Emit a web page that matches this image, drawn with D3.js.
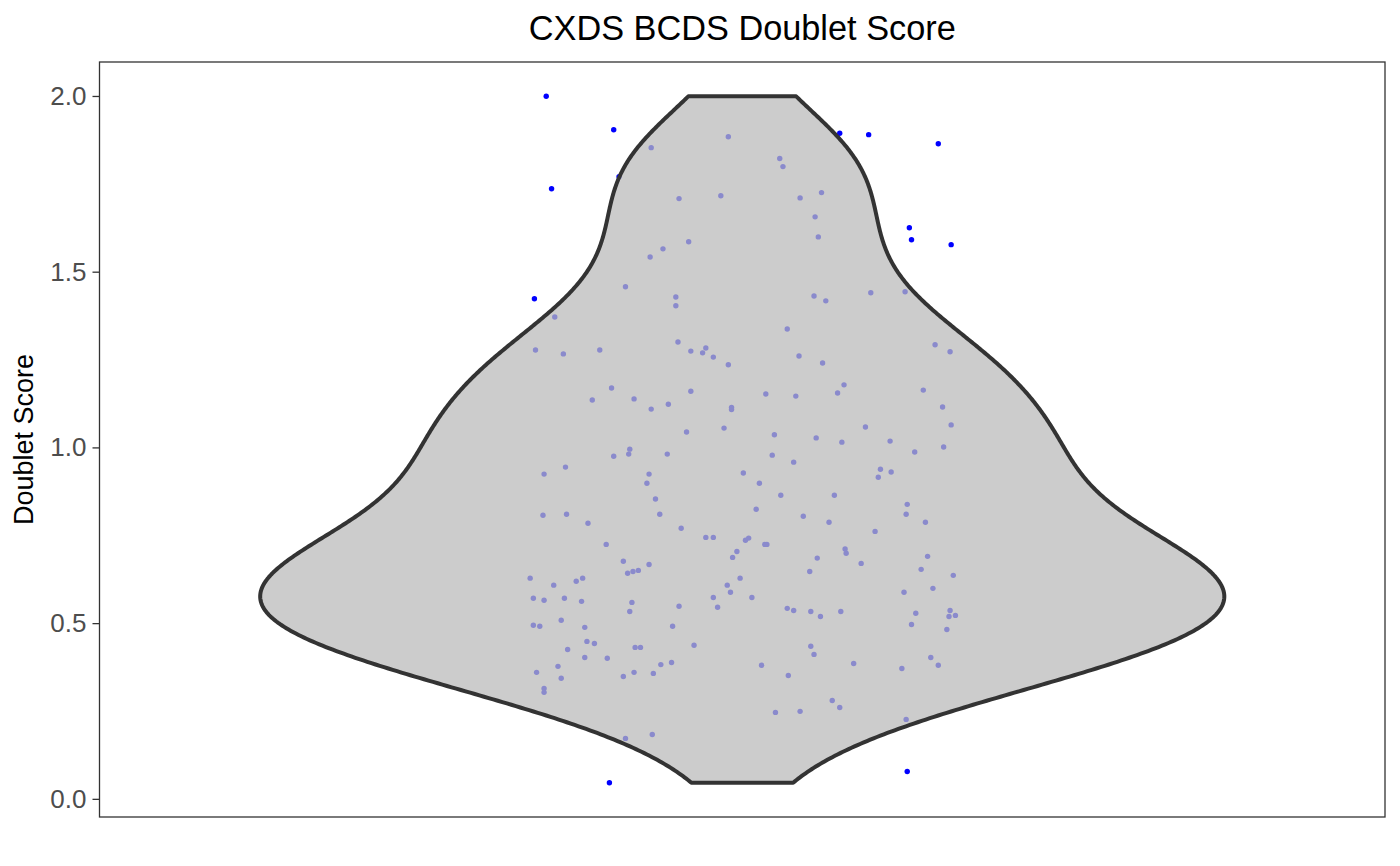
<!DOCTYPE html>
<html>
<head>
<meta charset="utf-8">
<script src="https://cdn.jsdelivr.net/npm/d3@7"></script>
<style>
  body { margin: 0; background: #fff; }
  text { font-family: "Liberation Sans", Arial, sans-serif; }
</style>
</head>
<body>
<div id="chart"></div>
<script>
// chart text
const title = "CXDS BCDS Doublet Score";
const yLabel = "Doublet Score";
const yTicks = [0, 0.5, 1, 1.5, 2];

// one value per cell
const doubletScore = [
  1.999, 1.904, 1.736, 1.853, 1.884, 1.770, 1.708, 1.716, 1.822, 1.799,
  1.894, 1.890, 1.864, 1.710, 1.725, 1.656, 1.599, 1.625, 1.591, 1.577,
  1.585, 1.565, 1.542, 1.457, 1.423, 1.428, 1.403, 1.371, 1.431, 1.417,
  1.440, 1.443, 1.337, 1.277, 1.266, 1.277, 1.300, 1.274, 1.283, 1.269,
  1.257, 1.235, 1.260, 1.240, 1.292, 1.272, 1.169, 1.135, 1.138, 1.109,
  1.123, 1.160, 1.114, 1.108, 1.152, 1.146, 1.155, 1.178, 1.163, 1.115,
  1.064, 1.058, 1.044, 1.055, 1.036, 1.027, 1.015, 1.018, 1.001, 0.987,
  0.995, 0.981, 0.975, 0.981, 0.978, 0.958, 0.944, 0.924, 0.924, 0.898,
  0.927, 0.898, 0.938, 0.930, 0.915, 0.864, 0.864, 0.853, 0.838, 0.810,
  0.824, 0.807, 0.810, 0.810, 0.784, 0.804, 0.787, 0.787, 0.770, 0.761,
  0.744, 0.744, 0.736, 0.742, 0.724, 0.724, 0.724, 0.704, 0.687, 0.711,
  0.699, 0.685, 0.690, 0.676, 0.667, 0.642, 0.647, 0.650, 0.670, 0.647,
  0.653, 0.628, 0.608, 0.619, 0.628, 0.628, 0.636, 0.608, 0.588, 0.599,
  0.588, 0.571, 0.565, 0.571, 0.562, 0.559, 0.573, 0.573, 0.548, 0.545,
  0.542, 0.536, 0.533, 0.533, 0.533, 0.519, 0.528, 0.536, 0.519, 0.522,
  0.496, 0.482, 0.494, 0.491, 0.508, 0.488, 0.491, 0.448, 0.442, 0.425,
  0.402, 0.400, 0.431, 0.431, 0.437, 0.434, 0.411, 0.402, 0.380, 0.377,
  0.360, 0.343, 0.348, 0.360, 0.357, 0.382, 0.388, 0.380, 0.351, 0.385,
  0.371, 0.314, 0.303, 0.280, 0.260, 0.246, 0.249, 0.226, 0.172, 0.183,
  0.046, 0.078
];

// horizontal jitter of each point, in category units (same order)
const jitterX = [
  -0.183, -0.120, -0.178, -0.085, -0.013, -0.115, -0.059, -0.020, 0.035, 0.038,
  0.091, 0.118, 0.183, 0.054, 0.074, 0.068, 0.071, 0.156, 0.158, 0.195,
  -0.050, -0.074, -0.086, -0.109, -0.194, -0.062, -0.062, -0.175, 0.067, 0.078,
  0.120, 0.152, 0.042, -0.193, -0.167, -0.133, -0.060, -0.048, -0.034, -0.037,
  -0.027, -0.013, 0.053, 0.075, 0.180, 0.194, -0.122, -0.140, -0.101, -0.085,
  -0.069, -0.048, -0.010, -0.010, 0.022, 0.050, 0.089, 0.095, 0.169, 0.187,
  0.195, 0.115, -0.052, -0.017, 0.030, 0.069, 0.093, 0.138, 0.188, 0.161,
  -0.105, -0.106, -0.120, -0.070, 0.028, 0.048, -0.165, -0.185, -0.087, -0.089,
  0.001, 0.016, 0.129, 0.139, 0.127, 0.036, 0.086, -0.081, 0.154, 0.153,
  0.013, -0.186, -0.164, -0.077, -0.144, 0.057, 0.081, 0.171, -0.057, 0.124,
  -0.034, -0.027, 0.003, 0.006, -0.127, 0.021, 0.023, -0.005, -0.009, 0.096,
  0.097, 0.070, 0.173, -0.111, -0.087, -0.107, -0.102, -0.097, 0.111, 0.063,
  0.167, -0.198, -0.176, -0.155, -0.149, -0.002, 0.197, -0.014, -0.011, 0.178,
  0.151, -0.195, -0.185, -0.166, -0.150, -0.103, -0.027, 0.009, -0.059, -0.023,
  0.042, 0.048, -0.105, 0.064, 0.092, 0.073, 0.162, 0.194, 0.193, 0.199,
  0.158, 0.191, -0.195, -0.189, -0.169, -0.147, -0.065, -0.145, -0.138, -0.163,
  -0.147, -0.126, -0.100, -0.095, -0.045, 0.064, 0.067, 0.176, 0.183, -0.172,
  -0.192, -0.169, -0.111, -0.101, -0.083, -0.076, -0.066, 0.018, 0.043, 0.104,
  0.149, -0.185, -0.185, 0.084, 0.091, 0.031, 0.054, 0.153, -0.109, -0.084,
  -0.124, 0.154
];

const width = 1400, height = 866;
const margin = { top: 62, right: 15, bottom: 49, left: 99.5 };

const svg = d3
  .select("#chart")
  .append("svg")
  .attr("width", width)
  .attr("height", height);

// ggplot style scales: one discrete slot at 1, 5% expansion on y
const x = d3
  .scaleLinear()
  .domain([0.4, 1.6])
  .range([margin.left, width - margin.right]);

const [yMin, yMax] = d3.extent(doubletScore);
const pad = (yMax - yMin) * 0.05;
const y = d3
  .scaleLinear()
  .domain([yMin - pad, yMax + pad])
  .range([height - margin.bottom, margin.top]);

// gaussian kernel density, bandwidth as R's bw.nrd0
const sorted = doubletScore.slice().sort(d3.ascending);
const n = sorted.length;
const iqr = d3.quantile(sorted, 0.75) - d3.quantile(sorted, 0.25);
const bw = 0.9 * Math.min(d3.deviation(sorted), iqr / 1.34) * Math.pow(n, -0.2);

const grid = d3.range(512).map((i) => yMin + (i * (yMax - yMin)) / 511);
const dens = grid.map((g) => {
  const s = d3.sum(sorted, (v) => Math.exp(-0.5 * ((g - v) / bw) ** 2));
  return s / (n * bw * Math.sqrt(2 * Math.PI));
});
const maxDens = d3.max(dens);
const violinData = grid.map((g, i) => ({ v: g, w: dens[i] / maxDens }));

// jittered points under the violin
svg
  .append("g")
  .selectAll("circle")
  .data(doubletScore)
  .join("circle")
  .attr("cx", (d, i) => x(1 + jitterX[i]))
  .attr("cy", (d) => y(d))
  .attr("r", 2.7)
  .attr("fill", "#0000ff");

// violin
const area = d3
  .area()
  .x0((d) => x(1 - 0.45 * d.w))
  .x1((d) => x(1 + 0.45 * d.w))
  .y((d) => y(d.v));

svg
  .append("path")
  .datum(violinData)
  .attr("d", area)
  .attr("fill", "#bababa")
  .attr("fill-opacity", 0.74)
  .attr("stroke", "#333333")
  .attr("stroke-width", 4)
  .attr("stroke-linejoin", "round");

// panel border
svg
  .append("rect")
  .attr("x", margin.left)
  .attr("y", margin.top)
  .attr("width", width - margin.left - margin.right)
  .attr("height", height - margin.top - margin.bottom)
  .attr("fill", "none")
  .attr("stroke", "#333333")
  .attr("stroke-width", 1.3);

// y axis
const yAxis = svg
  .append("g")
  .attr("transform", `translate(${margin.left},0)`)
  .call(
    d3.axisLeft(y)
      .tickValues(yTicks)
      .tickFormat(d3.format(".1f"))
      .tickSize(7)
      .tickPadding(6)
  );
yAxis.select(".domain").remove();
yAxis.selectAll(".tick line").attr("stroke", "#333333").attr("stroke-width", 1.3);
yAxis
  .selectAll(".tick text")
  .attr("fill", "#4d4d4d")
  .style("font-size", "26px")
  .style("font-family", '"Liberation Sans", Arial, sans-serif');

// title
svg
  .append("text")
  .attr("x", (margin.left + width - margin.right) / 2)
  .attr("y", 40)
  .attr("text-anchor", "middle")
  .style("font-size", "34.3px")
  .attr("fill", "#000")
  .text(title);

// y label
svg
  .append("text")
  .attr("transform", `translate(33,${(margin.top + height - margin.bottom) / 2}) rotate(-90)`)
  .attr("text-anchor", "middle")
  .style("font-size", "27px")
  .attr("fill", "#000")
  .text(yLabel);
</script>
</body>
</html>
